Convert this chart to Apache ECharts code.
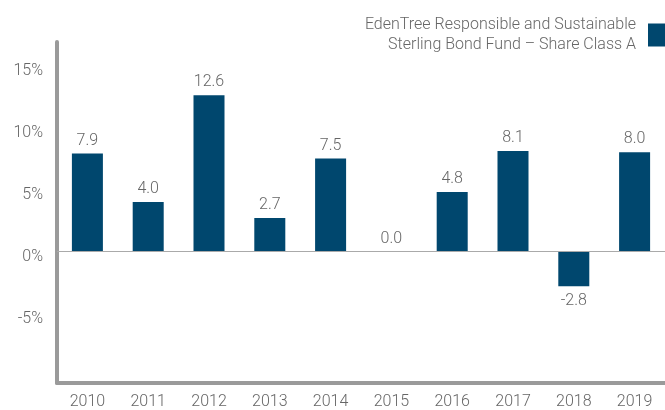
<!DOCTYPE html>
<html><head><meta charset="utf-8">
<script src="https://cdn.jsdelivr.net/npm/echarts@6/dist/echarts.min.js"></script>
<style>html,body{margin:0;padding:0;background:#fff}#c{width:665px;height:410px}</style>
</head><body><div id="c"></div>
<script>
const categories = ['2010','2011','2012','2013','2014','2015','2016','2017','2018','2019'];
const seriesName = 'EdenTree Responsible and Sustainable\nSterling Bond Fund – Share Class A';
const values = [7.9, 4.0, 12.6, 2.7, 7.5, 0.0, 4.8, 8.1, -2.8, 8.0];
const yTicks = [-5, 0, 5, 10, 15];

const font = 'Roboto, Liberation Sans, Arial, sans-serif';
const fw = 300;
const txt = '#666';
const chart = echarts.init(document.getElementById('c'));
chart.setOption({
  animation: false,
  textStyle: { fontFamily: font },
  grid: { left: 57, right: 0, top: 42, bottom: 26, containLabel: false },
  legend: {
    right: -8, top: 10, orient: 'vertical', align: 'right',
    itemWidth: 20, itemHeight: 23,
    icon: 'rect',
    textStyle: { color: txt, fontSize: 16, fontWeight: fw, lineHeight: 20, fontFamily: font, padding: [0, 7, 0, 0] },
    data: [seriesName]
  },
  xAxis: {
    type: 'category', data: categories,
    axisLine: { onZero: false, lineStyle: { color: '#9a9a9a', width: 4 } },
    axisTick: { show: false },
    axisLabel: { color: txt, fontSize: 16, fontWeight: fw, margin: 11, fontFamily: font }
  },
  yAxis: {
    type: 'value', min: -10.6, max: 16.9,
    axisLine: { show: true, lineStyle: { color: '#9a9a9a', width: 4 } },
    axisTick: { show: false },
    splitLine: { show: false },
    axisLabel: { customValues: yTicks, color: txt, fontSize: 16, fontWeight: fw, margin: 14, fontFamily: font,
      formatter: v => '{a|' + v + '%}',
      rich: { a: { color: txt, fontSize: 16, fontWeight: fw, fontFamily: font, padding: [10, 0, 0, 0] } } }
  },
  series: [{
    name: seriesName, type: 'bar',
    data: values.map(v => v < 0 ? { value: v, label: { position: 'bottom', distance: 7 } } : v),
    barWidth: '51%',
    itemStyle: { color: '#00476e' },
    label: { show: true, position: 'top', distance: 5, color: txt, fontSize: 16, fontWeight: fw, fontFamily: font,
      formatter: p => p.value.toFixed(1) },
    markLine: {
      silent: true, symbol: 'none', label: { show: false },
      lineStyle: { color: '#aaa', width: 1, type: 'solid' },
      data: [{ yAxis: 0 }]
    }
  }]
});
</script></body></html>
